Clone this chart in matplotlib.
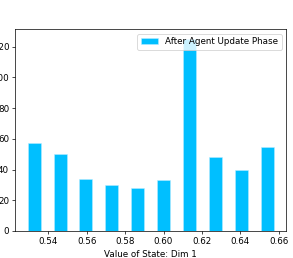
import matplotlib
matplotlib.use('Agg')
import matplotlib.pyplot as plt

# histogram bins (centres) and counts
bin_centres = [0.5327, 0.5462, 0.5596, 0.5731, 0.5866, 0.6000, 0.6135, 0.6270, 0.6404, 0.6539]
counts = [57, 50, 34, 30, 28, 33, 125, 48, 40, 55]
bin_width = 0.01346
label = 'After Agent Update Phase'

dpi = 63
fig = plt.figure(figsize=(293 / dpi, 258 / dpi), dpi=dpi)
ax = fig.add_axes([0.0522, 0.1047, 0.9238, 0.7813])

ax.bar(bin_centres, counts, width=bin_width * 0.5, color='#00BFFF',
       edgecolor='#b8ecff', linewidth=0.6, label=label)

ax.set_xticks([0.54, 0.56, 0.58, 0.60, 0.62, 0.64, 0.66])
ax.set_xticklabels(['0.54', '0.56', '0.58', '0.60', '0.62', '0.64', '0.66'])
ax.set_yticks([0, 20, 40, 60, 80, 100, 120])
ax.set_xlabel('Value of State: Dim 1')
ax.legend(loc='upper right')

fig.savefig('out.png', dpi=dpi)
